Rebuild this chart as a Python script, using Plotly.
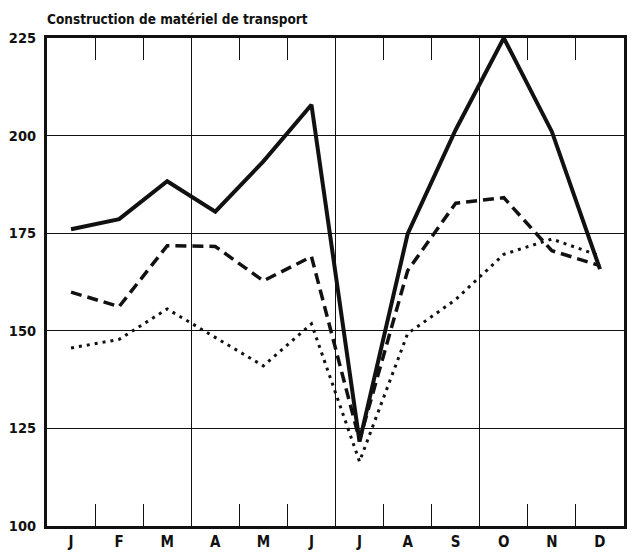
import plotly.graph_objects as go

months = ["J", "F", "M", "A", "M", "J", "J", "A", "S", "O", "N", "D"]
series_solid = [176.0, 178.6, 188.3, 180.5, 193.4, 207.9, 121.6, 174.8, 201.5, 225.0, 201.0, 165.8]
series_dashed = [159.9, 156.2, 171.8, 171.6, 162.8, 169.0, 122.0, 165.4, 182.7, 184.1, 170.5, 166.7]
series_dotted = [145.6, 147.8, 155.6, 148.4, 141.0, 151.8, 116.5, 149.3, 158.0, 169.6, 173.5, 169.2]
y_ticks = [100, 125, 150, 175, 200, 225]
title_text = "Construction de matériel de transport"

xpos = [i + 0.5 for i in range(len(months))]
boundaries = [1, 2, 4, 5, 7, 8, 10, 11]
quarters = [3, 6, 9]

FONT = "DejaVu Sans Condensed, DejaVu Sans, sans-serif"
INK = "#111111"

fig = go.Figure()
fig.add_trace(go.Scatter(x=xpos, y=series_solid, mode="lines",
                         line=dict(color=INK, width=4), showlegend=False))
fig.add_trace(go.Scatter(x=xpos, y=series_dashed, mode="lines",
                         line=dict(color=INK, width=3.5, dash="11px,6px"), showlegend=False))
fig.add_trace(go.Scatter(x=xpos, y=series_dotted, mode="lines",
                         line=dict(color=INK, width=3, dash="3px,5px"), showlegend=False))
fig.add_trace(go.Scatter(x=[], y=[], xaxis="x2", showlegend=False))

fig.update_layout(
    width=636, height=560,
    margin=dict(l=42, r=9, t=38, b=32),
    paper_bgcolor="white", plot_bgcolor="white",
    font=dict(family=FONT, color=INK),
    title=dict(text="<b>" + title_text + "</b>", x=47 / 636, xanchor="left",
               xref="container",
               y=1 - 19 / 560, yanchor="middle", yref="container",
               font=dict(family=FONT, size=13.5, color=INK)),
    xaxis=dict(range=[0, 12], tickmode="array", tickvals=xpos,
               ticktext=["<b>" + m + "</b>" for m in months],
               ticks="", showgrid=False, zeroline=False,
               showline=True, linewidth=3, linecolor=INK, mirror=True,
               tickfont=dict(family=FONT, size=15, color=INK),
               minor=dict(tickmode="array", tickvals=boundaries, ticks="inside",
                          ticklen=22, tickwidth=1.2, tickcolor=INK, showgrid=False)),
    xaxis2=dict(range=[0, 12], overlaying="x", side="top", anchor="y",
                tickmode="array", tickvals=quarters, showticklabels=False,
                ticks="", showgrid=True, gridcolor=INK, gridwidth=1.2,
                zeroline=False, showline=False,
                minor=dict(tickmode="array", tickvals=boundaries, ticks="inside",
                           ticklen=22, tickwidth=1.2, tickcolor=INK, showgrid=False)),
    yaxis=dict(range=[100, 225], tickmode="array", tickvals=y_ticks,
               ticktext=["<b>%d</b>" % v for v in y_ticks],
               ticks="", showgrid=True, gridcolor=INK, gridwidth=1.2, zeroline=False,
               showline=True, linewidth=3, linecolor=INK, mirror=True,
               ticklabelstandoff=5,
               tickfont=dict(family=FONT, size=14.5, color=INK)),
)

fig.write_html("out.html", config={"displayModeBar": False},
               post_script="document.body.style.margin='0';")
